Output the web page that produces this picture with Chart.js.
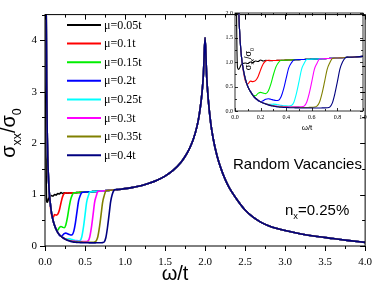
<!DOCTYPE html>
<html><head><meta charset="utf-8">
<script src="https://cdn.jsdelivr.net/npm/chart.js@4.4.1/dist/chart.umd.min.js"></script>
<style>
html,body{margin:0;padding:0;background:#fff;}
#wrap{position:relative;width:382px;height:286px;overflow:hidden;}
#main{position:absolute;left:0;top:0;}
#inset{position:absolute;left:205px;top:0;}
</style></head><body>
<div id="wrap"><canvas id="main" width="382" height="286"></canvas><canvas id="inset" width="175" height="140"></canvas></div>
<script>
// ---- data ----
const seriesLabels = ["μ=0.05t","μ=0.1t","μ=0.15t","μ=0.2t","μ=0.25t","μ=0.3t","μ=0.35t","μ=0.4t"];
const seriesColors = ["#000000","#ff0000","#00ee00","#0000ff","#00ffff","#ff00ff","#808000","#000080"];
const mainXTicks = [0,0.5,1,1.5,2,2.5,3,3.5,4];
const mainYTicks = [0,1,2,3,4];
const insetXTicks = [0,0.2,0.4,0.6,0.8,1.0];
const insetYTicks = [0,0.5,1.0,1.5,2.0];

const lowX = [0,0.01,0.02,0.03,0.04,0.05,0.06,0.08,0.10,0.12,0.14,0.16,0.18,0.20,0.22,0.24,0.26,0.28,0.30,0.32,0.34,0.36,0.38,0.40,0.42,0.44,0.46,0.48,0.50,0.52,0.54,0.56,0.58,0.60,0.62,0.64,0.66,0.68,0.70,0.72,0.74,0.76,0.78,0.80,0.82,0.84,0.86,0.88];
const tailX = [0.9,0.95,1.0,1.1,1.2,1.3,1.4,1.5,1.6,1.7,1.75,1.8,1.85,1.9,1.93,1.96,1.98,2.0,2.02,2.04,2.07,2.1,2.15,2.2,2.25,2.3,2.4,2.5,2.6,2.7,2.8,2.9,3.0,3.2,3.4,3.6,3.8,4.0];
const tailY = [1.097,1.105,1.115,1.14,1.17,1.22,1.28,1.36,1.47,1.63,1.74,1.88,2.06,2.33,2.58,2.95,3.35,4.05,3.3,2.85,2.4,2.1,1.75,1.5,1.3,1.14,0.9,0.7,0.56,0.46,0.39,0.34,0.3,0.235,0.185,0.145,0.105,0.07];

const mu005 = [12,3.0,0.88,0.85,0.9,0.95,0.97,0.98,0.97,1.0,0.99,1.02,1.01,1.04,1.02,1.035,1.03,1.025,1.03,1.032,1.034,1.035,1.036,1.038,1.04,1.042,1.044,1.046,1.048,1.05,1.052,1.054,1.056,1.058,1.06,1.062,1.064,1.066,1.068,1.07,1.073,1.076,1.079,1.082,1.085,1.088,1.091,1.094];
const mu010 = [12,6,3.2,2.0,1.45,1.12,0.9,0.62,0.55,0.61,0.6,0.62,0.7,0.84,0.96,1.02,1.035,1.03,1.03,1.032,1.034,1.035,1.036,1.038,1.04,1.042,1.044,1.046,1.048,1.05,1.052,1.054,1.056,1.058,1.06,1.062,1.064,1.066,1.068,1.07,1.073,1.076,1.079,1.082,1.085,1.088,1.091,1.094];
const mu015 = [12,6,3.2,2.0,1.45,1.12,0.92,0.66,0.5,0.4,0.32,0.31,0.36,0.38,0.365,0.355,0.41,0.55,0.74,0.9,0.99,1.035,1.036,1.038,1.04,1.042,1.044,1.046,1.048,1.05,1.052,1.054,1.056,1.058,1.06,1.062,1.064,1.066,1.068,1.07,1.073,1.076,1.079,1.082,1.085,1.088,1.091,1.094];
const mu020 = [12,6,3.2,2.0,1.45,1.12,0.92,0.66,0.5,0.4,0.32,0.26,0.21,0.19,0.21,0.24,0.25,0.24,0.225,0.215,0.22,0.29,0.45,0.67,0.88,0.98,1.04,1.046,1.048,1.05,1.052,1.054,1.056,1.058,1.06,1.062,1.064,1.066,1.068,1.07,1.073,1.076,1.079,1.082,1.085,1.088,1.091,1.094];
const mu025 = [12,6,3.2,2.0,1.45,1.12,0.92,0.66,0.5,0.4,0.32,0.26,0.22,0.19,0.165,0.145,0.135,0.135,0.14,0.135,0.125,0.115,0.108,0.104,0.102,0.11,0.18,0.36,0.6,0.85,0.97,1.05,1.056,1.058,1.06,1.062,1.064,1.066,1.068,1.07,1.073,1.076,1.079,1.082,1.085,1.088,1.091,1.094];
const mu030 = [12,6,3.2,2.0,1.45,1.12,0.92,0.66,0.5,0.4,0.32,0.26,0.22,0.19,0.165,0.145,0.13,0.118,0.108,0.1,0.097,0.095,0.093,0.09,0.088,0.087,0.086,0.086,0.087,0.088,0.1,0.18,0.36,0.6,0.85,0.97,1.06,1.066,1.068,1.07,1.073,1.076,1.079,1.082,1.085,1.088,1.091,1.094];
const mu035 = [12,6,3.2,2.0,1.45,1.12,0.92,0.66,0.5,0.4,0.32,0.26,0.22,0.19,0.165,0.145,0.13,0.115,0.105,0.097,0.09,0.085,0.082,0.08,0.078,0.076,0.075,0.074,0.073,0.072,0.072,0.072,0.073,0.074,0.08,0.1,0.18,0.36,0.6,0.85,0.98,1.07,1.08,1.082,1.085,1.088,1.091,1.094];
const mu040 = [12,6,3.2,2.0,1.45,1.12,0.92,0.66,0.5,0.4,0.32,0.26,0.22,0.19,0.165,0.145,0.125,0.11,0.1,0.09,0.082,0.076,0.072,0.07,0.068,0.066,0.065,0.064,0.063,0.062,0.062,0.061,0.061,0.061,0.061,0.062,0.062,0.063,0.064,0.066,0.08,0.16,0.35,0.6,0.86,1.0,1.08,1.1];
const seriesLow = [mu005,mu010,mu015,mu020,mu025,mu030,mu035,mu040];

// ---- build ----
const allX = lowX.concat(tailX);
function makeDatasets(lw){
  return seriesLow.map((low,i)=>{
    const ys = low.concat(tailY);
    return {
      label: seriesLabels[i],
      data: allX.map((x,j)=>({x:x,y:ys[j]})),
      borderColor: seriesColors[i],
      borderWidth: lw,
      pointRadius: 0,
      fill: false,
      cubicInterpolationMode: 'monotone',
      order: seriesLow.length-1-i
    };
  });
}

const SERIF = '"Liberation Serif","Times New Roman",serif';
const SANS = '"Liberation Sans",Arial,sans-serif';

function drawRich(ctx, parts, x, y, size, fam, align){
  let w = 0;
  for (const p of parts){ ctx.font = (p.s? size*0.62: size)+'px '+fam; w += ctx.measureText(p.t).width; }
  let cx = align==='center' ? x - w/2 : x;
  ctx.textAlign = 'left';
  ctx.textBaseline = 'alphabetic';
  for (const p of parts){
    ctx.font = (p.s? size*0.62: size)+'px '+fam;
    ctx.fillText(p.t, cx, y + (p.s ? size*0.28 : 0));
    cx += ctx.measureText(p.t).width;
  }
}

function tickPlugin(id){
  return {
    id: id,
    afterDraw(chart, args, o){
      const {ctx, chartArea:{left,right,top,bottom}, scales:{x,y}} = chart;
      ctx.save();
      ctx.strokeStyle = '#000';
      ctx.lineWidth = o.lw;
      ctx.strokeRect(left, top, right-left, bottom-top);
      ctx.beginPath();
      const xs = [];
      for (let v=o.xMin; v<=o.xMax+1e-9; v+=o.xMinor) xs.push(v);
      const ys = [];
      for (let v=o.yMin; v<=o.yMax+1e-9; v+=o.yMinor) ys.push(v);
      xs.forEach(v=>{
        const major = Math.abs(v/o.xMajor - Math.round(v/o.xMajor))<1e-6;
        const L = major? o.major : o.minor;
        const px = Math.round(x.getPixelForValue(v))+0.5;
        // bottom
        if (o.bottomOut){ ctx.moveTo(px,bottom); ctx.lineTo(px,bottom+L); }
        else { ctx.moveTo(px,bottom); ctx.lineTo(px,bottom-L); }
        // top inward
        ctx.moveTo(px,top); ctx.lineTo(px,top+L);
      });
      ys.forEach(v=>{
        const major = Math.abs(v/o.yMajor - Math.round(v/o.yMajor))<1e-6;
        const L = major? o.major : o.minor;
        const py = Math.round(y.getPixelForValue(v))+0.5;
        if (o.leftOut){ ctx.moveTo(left,py); ctx.lineTo(left-L,py); }
        else { ctx.moveTo(left,py); ctx.lineTo(left+L,py); }
        ctx.moveTo(right,py); ctx.lineTo(right-L,py);
      });
      ctx.stroke();
      ctx.restore();
    }
  };
}

const mainDecor = {
  id: 'mainDecor',
  afterDraw(chart){
    const ctx = chart.ctx;
    ctx.save();
    ctx.fillStyle = '#000';
    // legend
    seriesLabels.forEach((lab,i)=>{
      const yy = 25 + 18.6*i;
      ctx.strokeStyle = seriesColors[i];
      ctx.lineWidth = 2;
      ctx.beginPath(); ctx.moveTo(67,yy); ctx.lineTo(101,yy); ctx.stroke();
      ctx.font = '12px '+SERIF;
      ctx.textAlign = 'left'; ctx.textBaseline = 'middle';
      ctx.fillText(lab, 104, yy+0.5);
    });
    // annotations
    ctx.font = '15px '+SANS;
    ctx.textAlign='left'; ctx.textBaseline='middle';
    ctx.fillText('Random Vacancies', 233, 165);
    drawRich(ctx, [{t:'n'},{t:'x',s:true},{t:'=0.25%'}], 285, 215, 15, SANS, 'left');
    // axis titles
    drawRich(ctx, [{t:'ω/t'}], 175, 280, 20, SANS, 'center');
    ctx.translate(15, 133);
    ctx.rotate(-Math.PI/2);
    drawRich(ctx, [{t:'σ'},{t:'xx',s:true},{t:'/σ'},{t:'0',s:true}], 0, 0, 20, SANS, 'center');
    ctx.restore();
  }
};

const insetDecor = {
  id: 'insetDecor',
  afterDraw(chart){
    const ctx = chart.ctx;
    ctx.save();
    ctx.fillStyle = '#000';
    drawRich(ctx, [{t:'ω/t'}], 102, 130, 8, SANS, 'center');
    ctx.translate(46, 59);
    ctx.rotate(-Math.PI/2);
    drawRich(ctx, [{t:'σ'},{t:'xx',s:true},{t:'/σ'},{t:'0',s:true}], 0, 0, 9, SANS, 'center');
    ctx.restore();
  }
};

new Chart(document.getElementById('main'), {
  type: 'line',
  data: { datasets: makeDatasets(1.6) },
  options: {
    responsive: false, animation: false, devicePixelRatio: 1,
    layout: { padding: { left: 0, top: 3, right: 12, bottom: 0 } },
    plugins: { legend: {display:false}, tooltip: {enabled:false},
      mainTicks: { lw: 1, major: 5, minor: 3, xMin:0, xMax:4, xMajor:0.5, xMinor:0.25, yMin:0, yMax:4.5, yMajor:1, yMinor:0.5, bottomOut:true, leftOut:true } },
    scales: {
      x: { type:'linear', min:0, max:4,
        grid:{display:false, drawTicks:false}, border:{display:false},
        afterBuildTicks: s=>{ s.ticks = mainXTicks.map(v=>({value:v})); },
        afterFit: s=>{ s.height = 40; },
        ticks:{ padding: 10, color:'#000', font:{family:SERIF, size:11}, maxRotation:0, callback: v=>Number(v).toFixed(1) } },
      y: { type:'linear', min:0, max:4.5,
        grid:{display:false, drawTicks:false}, border:{display:false},
        afterBuildTicks: s=>{ s.ticks = mainYTicks.map(v=>({value:v})); },
        afterFit: s=>{ s.width = 45; },
        ticks:{ padding: 8, color:'#000', font:{family:SERIF, size:11}, callback: v=>String(v) } }
    }
  },
  plugins: [tickPlugin('mainTicks'), mainDecor]
});

new Chart(document.getElementById('inset'), {
  type: 'line',
  data: { datasets: makeDatasets(1.1) },
  options: {
    responsive: false, animation: false, devicePixelRatio: 1,
    layout: { padding: { left: 0, top: 13, right: 17, bottom: 0 } },
    plugins: { legend: {display:false}, tooltip: {enabled:false},
      insetTicks: { lw: 0.8, major: 3, minor: 2, xMin:0, xMax:1, xMajor:0.2, xMinor:0.1, yMin:0, yMax:2, yMajor:0.5, yMinor:0.25, bottomOut:false, leftOut:false } },
    scales: {
      x: { type:'linear', min:0, max:1,
        grid:{display:false, drawTicks:false}, border:{display:false},
        afterBuildTicks: s=>{ s.ticks = insetXTicks.map(v=>({value:v})); },
        afterFit: s=>{ s.height = 29; },
        ticks:{ padding: 3, color:'#000', font:{family:SERIF, size:6}, maxRotation:0, callback: v=>Number(v).toFixed(1) } },
      y: { type:'linear', min:0, max:2,
        grid:{display:false, drawTicks:false}, border:{display:false},
        afterBuildTicks: s=>{ s.ticks = insetYTicks.map(v=>({value:v})); },
        afterFit: s=>{ s.width = 30; },
        ticks:{ padding: 2, color:'#000', font:{family:SERIF, size:6}, callback: v=>Number(v).toFixed(1) } }
    }
  },
  plugins: [tickPlugin('insetTicks'), insetDecor]
});
</script>
</body></html>
